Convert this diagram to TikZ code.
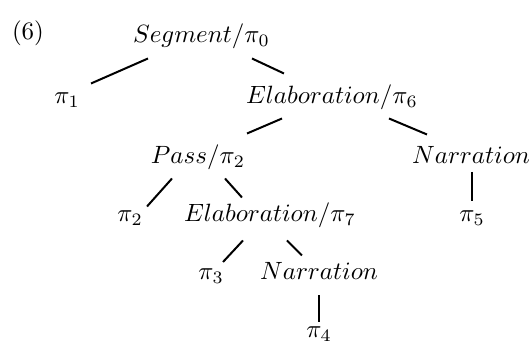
\documentclass[tikz,border=0pt]{standalone}

\tikzstyle{tag} = [inner sep=0pt, text height=7pt, text depth=2pt]
\tikzstyle{line} = [draw, line width=0.8pt]

\begin{document}
\begin{tikzpicture}[node distance=24pt]
    \useasboundingbox (-80.6pt,-123.3pt) rectangle (131pt,14.7pt);

    \node[tag] (root) {$Segment/\pi_0$};
    \node[tag, left of=root, node distance=69.4pt, yshift=1.2pt] (num) {(6)};

    \node[tag, below of=root, xshift=-53.8pt, node distance=24.4pt] (pi1) {$\pi_1$};
    \node[tag, below of=root, xshift=52.2pt, node distance=24.4pt] (elab6) {$Elaboration/\pi_6$};

    \node[tag, below of=elab6, xshift=-53.6pt] (pass) {$Pass/\pi_2$};
    \node[tag, below of=elab6, xshift=55.6pt] (narrA) {$Narration$};

    \node[tag, below of=pass, xshift=-27.2pt, node distance=23.2pt] (pi2) {$\pi_2$};
    \node[tag, below of=pass, xshift=28.8pt, node distance=23.2pt] (elab7) {$Elaboration/\pi_7$};
    \node[tag, below of=narrA, xshift=0.4pt, node distance=23.2pt] (pi5) {$\pi_5$};

    \node[tag, below of=elab7, xshift=-23.6pt, node distance=23.2pt] (pi3) {$\pi_3$};
    \node[tag, below of=elab7, xshift=19.6pt, node distance=23.2pt] (narrB) {$Narration$};
    \node[tag, below of=narrB, node distance=23.2pt] (pi4) {$\pi_4$};

    % lines
    \draw [line] ([xshift=-21.4pt, yshift=-4pt]root.south) -- ([xshift=9.6pt, yshift=1pt]pi1.north);
    \draw [line] ([xshift=20.2pt, yshift=-4pt]root.south) -- ([xshift=-19.2pt, yshift=5pt]elab6.north);
    \draw [line] ([xshift=-20pt, yshift=-3.6pt]elab6.south) -- ([xshift=19.6pt, yshift=5pt]pass.north);
    \draw [line] ([xshift=22.8pt, yshift=-3.6pt]elab6.south) -- ([xshift=-17.6pt, yshift=4.6pt]narrA.north);
    \draw [line] ([xshift=-10.4pt, yshift=-3.6pt]pass.south) -- ([xshift=6.8pt, yshift=-1pt]pi2.north);
    \draw [line] ([xshift=10.8pt, yshift=-3.6pt]pass.south) -- ([xshift=-11.2pt, yshift=2.6pt]elab7.north);
    \draw [line] ([xshift=0.4pt, yshift=-1pt]narrA.south) -- ([yshift=1pt]pi5.north);
    \draw [line] ([xshift=-10.8pt, yshift=-5.2pt]elab7.south) -- ([xshift=4.8pt]pi3.north);
    \draw [line] ([xshift=6.8pt, yshift=-5.2pt]elab7.south) -- ([xshift=-6.8pt, yshift=2.6pt]narrB.north);
    \draw [line] ([yshift=-4pt]narrB.south) -- ([yshift=-1pt]pi4.north);
\end{tikzpicture}
\end{document}
